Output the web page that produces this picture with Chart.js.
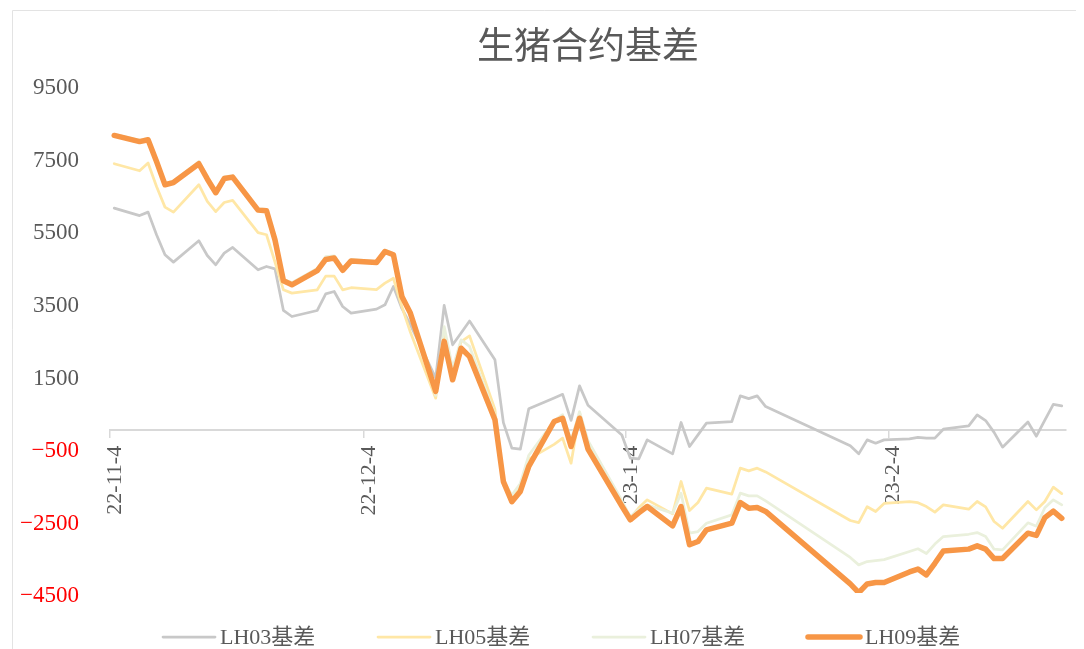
<!DOCTYPE html>
<html><head><meta charset="utf-8">
<script src="https://cdn.jsdelivr.net/npm/chart.js@4.4.0/dist/chart.umd.min.js"></script>
<style>html,body{margin:0;padding:0;background:#fff;}#wrap{width:1084px;height:649px;}</style>
</head><body><div id="wrap"><canvas id="c" width="1084" height="649"></canvas></div>
<script>
const tradeDates = [
'2022-11-04','2022-11-07','2022-11-08','2022-11-09','2022-11-10','2022-11-11','2022-11-14','2022-11-15','2022-11-16','2022-11-17','2022-11-18','2022-11-21','2022-11-22','2022-11-23','2022-11-24','2022-11-25','2022-11-28','2022-11-29','2022-11-30',
'2022-12-01','2022-12-02','2022-12-05','2022-12-06','2022-12-07','2022-12-08','2022-12-09','2022-12-12','2022-12-13','2022-12-14','2022-12-15','2022-12-16','2022-12-19','2022-12-20','2022-12-21','2022-12-22','2022-12-23','2022-12-26','2022-12-27','2022-12-28','2022-12-29','2022-12-30',
'2023-01-03','2023-01-04','2023-01-05','2023-01-06','2023-01-09','2023-01-10','2023-01-11','2023-01-12','2023-01-13','2023-01-16','2023-01-17','2023-01-18','2023-01-19','2023-01-20','2023-01-30','2023-01-31',
'2023-02-01','2023-02-02','2023-02-03','2023-02-06','2023-02-07','2023-02-08','2023-02-09','2023-02-10','2023-02-13','2023-02-14','2023-02-15','2023-02-16','2023-02-17','2023-02-20','2023-02-21','2023-02-22','2023-02-23','2023-02-24'];

const lh03 = [6115,5910,6005,5380,4830,4626,5214,4809,4552,4874,5030,4414,4506,4441,3292,3126,3292,3752,3816,
3402,3218,3329,3448,3954,3350,2900,1430,3430,2345,2670,3000,1931,200,-506,-533,580,880,980,260,1214,680,
-140,-780,-800,-276,-662,202,-460,-138,184,230,938,860,938,643,-440,-662,
-276,-368,-276,-250,-205,-230,-230,18,110,414,257,-70,-478,215,-175,270,700,662];

const lh05 = [7340,7145,7360,6710,6143,6005,6760,6300,6020,6270,6330,5440,5380,4630,3862,3770,3862,4240,4240,
3862,3920,3870,4046,4180,3400,2700,874,2713,1608,2436,2593,560,-1517,-1839,-1563,-809,-400,-230,-920,470,-390,
-2000,-2437,-2150,-1931,-2317,-1425,-2226,-2005,-1609,-1775,-1057,-1131,-1057,-1160,-2500,-2557,
-2120,-2253,-2030,-1977,-2010,-2115,-2270,-2069,-2188,-1977,-2125,-2529,-2713,-1977,-2207,-1977,-1580,-1757];

const lh07 = [8150,7990,8040,7450,6800,6860,7400,6980,6600,6980,7010,6100,6080,5250,4150,4060,4450,4780,4800,
4460,4700,4650,4960,4860,3720,3250,950,2850,1700,2480,2300,410,-1400,-1800,-1480,-700,250,420,-300,500,-300,
-1950,-2391,-2200,-2069,-2299,-1747,-2851,-2805,-2575,-2345,-1747,-1821,-1821,-1960,-3520,-3724,
-3632,-3605,-3580,-3356,-3280,-3410,-3150,-2943,-2880,-2833,-2943,-3292,-3310,-2565,-2657,-2150,-1931,-2069];

const lh09 = [8120,7950,8000,7400,6760,6820,7340,6920,6540,6930,6970,6060,6040,5240,4110,4000,4390,4700,4740,
4400,4660,4615,4920,4830,3680,3220,1060,2440,1380,2250,2020,280,-1430,-1980,-1700,-1010,230,320,-460,320,-530,
-2100,-2480,-2290,-2115,-2650,-2115,-3170,-3080,-2760,-2575,-2005,-2160,-2145,-2250,-4250,-4490,
-4250,-4210,-4210,-3920,-3840,-4000,-3680,-3340,-3290,-3200,-3290,-3550,-3550,-2850,-2910,-2420,-2240,-2440];

const seriesNames = ['LH03基差','LH05基差','LH07基差','LH09基差'];
const xTickDates = ['2022-11-04','2022-12-04','2023-01-04','2023-02-04'];
const xTickLabels = ['22-11-4','22-12-4','23-1-4','23-2-4'];
const yMin = -4500, yMax = 9500, yStep = 2000;
const titleText = '生猪合约基差';

const dayOf = s => Math.round((Date.parse(s) - Date.parse(tradeDates[0])) / 86400000);
const toPts = arr => arr.map((v, i) => ({x: dayOf(tradeDates[i]), y: v}));

const styles = [
  {color:'#c8c8c8', width:2.75, order:3},
  {color:'#ffe7a6', width:2.75, order:2},
  {color:'#eaf0dc', width:2.75, order:1},
  {color:'#f79646', width:5.5, order:0}
];
const seriesData = [lh03, lh05, lh07, lh09];

const datasets = seriesData.map((arr, k) => ({
  label: seriesNames[k],
  data: toPts(arr),
  borderColor: styles[k].color,
  backgroundColor: styles[k].color,
  borderWidth: styles[k].width,
  order: styles[k].order,
  pointRadius: 0,
  tension: 0,
  borderJoinStyle: 'round',
  borderCapStyle: 'round',
  fill: false
}));

const frame = {
  id: 'frame',
  beforeDraw(chart) {
    const ctx = chart.ctx;
    ctx.save();
    ctx.fillStyle = '#fff';
    ctx.fillRect(0, 0, chart.width, chart.height);
    ctx.strokeStyle = '#e3e3e3';
    ctx.lineWidth = 1;
    ctx.beginPath();
    ctx.moveTo(12.5, chart.height);
    ctx.lineTo(12.5, 10.5);
    ctx.lineTo(1076, 10.5);
    ctx.stroke();
    ctx.restore();
  }
};

const customLegend = {
  id: 'customLegend',
  afterDraw(chart) {
    const ctx = chart.ctx;
    ctx.save();
    ctx.font = '22px "Liberation Serif", "Noto Sans CJK SC"';
    ctx.textBaseline = 'middle';
    ctx.textAlign = 'left';
    let x = 163;
    const y = 637;
    chart.data.datasets.forEach(ds => {
      ctx.strokeStyle = ds.borderColor;
      ctx.lineWidth = ds.borderWidth;
      ctx.lineCap = 'round';
      ctx.beginPath();
      ctx.moveTo(x, y);
      ctx.lineTo(x + 52, y);
      ctx.stroke();
      ctx.fillStyle = '#595959';
      ctx.fillText(ds.label, x + 57, y + 1);
      x += 215;
    });
    ctx.restore();
  }
};

const lastDay = dayOf(tradeDates[tradeDates.length - 1]);

new Chart(document.getElementById('c'), {
  type: 'line',
  data: { datasets },
  plugins: [frame, customLegend],
  options: {
    responsive: false,
    animation: false,
    devicePixelRatio: 1,
    layout: { padding: { left: 0, right: 18, top: 0, bottom: 56 } },
    plugins: {
      legend: { display: false },
      tooltip: { enabled: false },
      title: {
        display: true, text: titleText, fullSize: false, color: '#595959',
        font: { family: '"Noto Sans CJK SC"', size: 37, weight: 'normal', lineHeight: 1.2 },
        padding: { top: 23, bottom: 18 }
      }
    },
    scales: {
      x: {
        type: 'linear',
        position: { y: 0 },
        min: -0.5,
        max: lastDay + 0.5,
        afterBuildTicks: s => { s.ticks = xTickDates.map(d => ({ value: dayOf(d) - 0.5 })); },
        ticks: {
          autoSkip: false, minRotation: 90, maxRotation: 90, padding: 9, labelOffset: 5,
          color: '#595959', font: { family: '"Liberation Serif"', size: 22 },
          callback: (v, i) => xTickLabels[i]
        },
        grid: { display: true, drawOnChartArea: false, drawTicks: true, tickLength: 7, color: '#d9d9d9', lineWidth: 1.5 },
        border: { display: true, color: '#d9d9d9', width: 2 }
      },
      y: {
        min: yMin, max: yMax,
        afterFit: s => { s.width = 110; },
        ticks: {
          stepSize: yStep, padding: 31, labelOffset: 3,
          color: c => c.tick.value < 0 ? '#ff0000' : '#595959',
          font: { family: '"Liberation Serif"', size: 23 },
          callback: v => v < 0 ? '\u2212' + Math.abs(v) : String(v)
        },
        grid: { display: false, drawTicks: false },
        border: { display: false }
      }
    }
  }
});
</script>
</body></html>
